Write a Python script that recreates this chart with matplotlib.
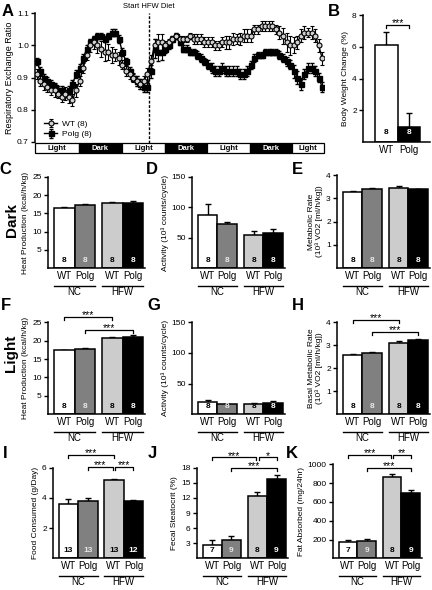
import numpy as np
import matplotlib
matplotlib.use("Agg")
import matplotlib.pyplot as plt
import matplotlib.transforms as mtransforms
from matplotlib.patches import Rectangle

plt.rcParams['font.family'] = ['Liberation Sans', 'DejaVu Sans']

# ---- panel A: respiratory exchange ratio, hourly
hours = np.arange(81)
rer_wt = [0.91, 0.89, 0.88, 0.87, 0.86, 0.86, 0.85, 0.84, 0.85, 0.84,
          0.83, 0.86, 0.89, 0.93, 0.97, 1.00, 1.01, 1.00, 0.99, 0.98,
          0.98, 0.97, 0.97, 0.96, 0.94, 0.92, 0.91, 0.90, 0.89, 0.88,
          0.89, 0.91, 0.95, 1.00, 1.01, 1.01, 1.00, 1.01, 1.02, 1.03,
          1.02, 1.02, 1.02, 1.03, 1.02, 1.02, 1.02, 1.01, 1.01, 1.01,
          1.00, 1.00, 1.01, 1.01, 1.01, 1.02, 1.02, 1.02, 1.03, 1.03,
          1.03, 1.05, 1.05, 1.06, 1.06, 1.06, 1.06, 1.05, 1.04, 1.03,
          1.01, 1.00, 1.00, 1.01, 1.03, 1.04, 1.04, 1.04, 1.03, 1.00,
          0.96]
rer_wt_sem = [0.015, 0.015, 0.02, 0.015, 0.015, 0.02, 0.015, 0.015, 0.02, 0.02,
              0.02, 0.02, 0.015, 0.015, 0.015, 0.02, 0.02, 0.025, 0.025, 0.03,
              0.025, 0.025, 0.02, 0.02, 0.015, 0.015, 0.015, 0.015, 0.015, 0.015,
              0.015, 0.02, 0.02, 0.02, 0.025, 0.025, 0.015, 0.01, 0.01, 0.01,
              0.01, 0.01, 0.01, 0.01, 0.015, 0.015, 0.015, 0.015, 0.015, 0.015,
              0.015, 0.015, 0.015, 0.02, 0.02, 0.02, 0.015, 0.02, 0.02, 0.02,
              0.02, 0.015, 0.015, 0.015, 0.015, 0.015, 0.015, 0.015, 0.02, 0.025,
              0.03, 0.03, 0.025, 0.02, 0.02, 0.02, 0.015, 0.02, 0.02, 0.02,
              0.02]
rer_polg = [0.95, 0.92, 0.90, 0.89, 0.88, 0.87, 0.86, 0.86, 0.85, 0.86,
            0.88, 0.91, 0.93, 0.96, 0.99, 1.01, 1.02, 1.03, 1.03, 1.02,
            1.03, 1.04, 1.04, 1.02, 0.98, 0.95, 0.92, 0.90, 0.89, 0.88,
            0.87, 0.87, 0.92, 0.99, 0.98, 0.98, 0.99, 1.00, 1.02, 1.03,
            1.01, 0.99, 0.99, 0.98, 0.98, 0.97, 0.96, 0.95, 0.94, 0.93,
            0.92, 0.92, 0.93, 0.92, 0.92, 0.92, 0.92, 0.91, 0.91, 0.92,
            0.94, 0.96, 0.97, 0.97, 0.98, 0.98, 0.98, 0.98, 0.97, 0.96,
            0.95, 0.94, 0.92, 0.90, 0.88, 0.91, 0.93, 0.93, 0.92, 0.90,
            0.87]
rer_polg_sem = [0.012, 0.012, 0.012, 0.012, 0.012, 0.012, 0.012, 0.012, 0.012, 0.012,
                0.012, 0.012, 0.012, 0.012, 0.012, 0.01, 0.01, 0.01, 0.01, 0.01,
                0.01, 0.01, 0.01, 0.012, 0.012, 0.012, 0.012, 0.012, 0.015, 0.015,
                0.015, 0.015, 0.02, 0.03, 0.03, 0.025, 0.015, 0.01, 0.01, 0.01,
                0.01, 0.01, 0.01, 0.01, 0.01, 0.012, 0.012, 0.012, 0.015, 0.015,
                0.015, 0.015, 0.015, 0.015, 0.015, 0.015, 0.015, 0.015, 0.015, 0.015,
                0.012, 0.012, 0.01, 0.01, 0.01, 0.01, 0.01, 0.01, 0.012, 0.012,
                0.015, 0.015, 0.02, 0.02, 0.02, 0.015, 0.015, 0.015, 0.015, 0.015,
                0.015]
cycle_edges = [-0.5, 11.7, 23.9, 35.9, 47.8, 59.8, 71.6, 80.5]
cycle_names = ['Light', 'Dark', 'Light', 'Dark', 'Light', 'Dark', 'Light']
diet_start = 31.5

# ---- panel B: body weight change
bw_groups = ['WT', 'Polg']
bw_mean = [6.1, 0.95]
bw_sem = [0.85, 0.85]
bw_n = [8, 8]

# ---- panels C-K (order: WT NC, Polg NC, WT HFW, Polg HFW)
groups = ['WT', 'Polg', 'WT', 'Polg']
diets = ['NC', 'HFW']
heat_dark = [16.4, 17.2, 17.8, 17.9]
heat_dark_sem = [0.3, 0.35, 0.35, 0.4]
act_dark = [88, 72, 54, 58]
act_dark_sem = [17, 4, 7, 6]
met_dark = [3.26, 3.38, 3.46, 3.38]
met_dark_sem = [0.05, 0.05, 0.08, 0.04]
heat_light = [17.4, 17.8, 20.8, 21.1]
heat_light_sem = [0.2, 0.15, 0.3, 0.5]
act_light = [19.5, 16, 16.5, 19]
act_light_sem = [4, 1, 2, 2]
met_light = [2.6, 2.66, 3.12, 3.21]
met_light_sem = [0.04, 0.05, 0.07, 0.08]
food = [3.6, 3.8, 5.2, 3.77]
food_sem = [0.3, 0.2, 0.08, 0.1]
steatocrit = [2.7, 3.6, 12.4, 15.8]
steatocrit_sem = [0.85, 0.8, 0.85, 0.75]
fat_abs = [175, 180, 860, 700]
fat_abs_sem = [20, 30, 32, 28]
n_calor = [8, 8, 8, 8]
n_food = [13, 13, 13, 12]
n_fecal = [7, 9, 8, 9]

W, H = 432, 590
fig = plt.figure(figsize=(W / 100, H / 100), dpi=100)


def px_axes(l, t, r, b):
    return fig.add_axes([l / W, 1 - b / H, (r - l) / W, (b - t) / H])


def style(ax):
    for s in ['top', 'right']:
        ax.spines[s].set_visible(False)
    for s in ['left', 'bottom']:
        ax.spines[s].set_linewidth(1.1)
    ax.tick_params(axis='y', length=3, width=1, labelsize=6, pad=1.5)


def bracket(ax, x1, x2, y, txt, drop):
    ax.plot([x1, x1, x2, x2], [y - drop, y, y, y - drop], color='k', lw=0.9,
            clip_on=False)
    ax.annotate(txt, (0.5 * (x1 + x2), y), xytext=(0, -2.5), textcoords='offset points',
                ha='center', va='bottom', fontsize=7.5, annotation_clip=False)


bar_pos = [0, 1, 2.35, 3.35]
bar_cols = ['white', '#808080', '#cccccc', 'black']
n_cols = ['black', '#e8e8e8', 'black', 'white']


def bar_panel(box, vals, sems, ns, ymax, yticks, ylabel, brk=()):
    l, t, r, b = box
    hpx = b - t
    ax = px_axes(l, t, r, b)
    ax.bar(bar_pos, vals, width=1, color=bar_cols, edgecolor='black', linewidth=1.1,
           zorder=2)
    ax.errorbar(bar_pos, vals, yerr=[np.zeros(4), sems], fmt='none', ecolor='black',
                elinewidth=1, capsize=2.2, capthick=1, zorder=1)
    ax.set_xlim(-0.8, 3.95)
    ax.set_ylim(0, ymax)
    ax.set_yticks(yticks)
    style(ax)
    ax.set_xticks(bar_pos, groups, fontsize=7)
    ax.tick_params(axis='x', length=0, pad=2)
    ax.set_ylabel(ylabel, fontsize=6, labelpad=2, linespacing=1.1)
    for p, n, c in zip(bar_pos, ns, n_cols):
        ax.text(p, 8 / hpx * ymax, str(n), ha='center', va='center', fontsize=6,
                fontweight='bold', color=c)
    tr = mtransforms.blended_transform_factory(ax.transData, ax.transAxes)
    for k, d in enumerate(diets):
        x1, x2 = bar_pos[2 * k] - 0.5, bar_pos[2 * k + 1] + 0.5
        ax.plot([x1, x2], [-18 / hpx] * 2, color='k', lw=1, transform=tr, clip_on=False)
        ax.text(0.5 * (x1 + x2), -24 / hpx, d, ha='center', va='center', fontsize=7,
                transform=tr)
    for x1, x2, y, txt in brk:
        bracket(ax, x1, x2, y, txt, 3 / hpx * ymax)
    return ax


# ---- A
axA = px_axes(35, 13.3, 324, 141.7)
axA.errorbar(hours, rer_wt, yerr=rer_wt_sem, fmt='-o', color='black', lw=1, ms=3.6,
             mfc='#d0d0d0', mec='black', mew=0.8, elinewidth=0.8, capsize=1.6,
             label='WT (8)', zorder=3)
axA.errorbar(hours, rer_polg, yerr=rer_polg_sem, fmt='-s', color='black', lw=1, ms=3.6,
             mfc='black', mec='black', elinewidth=0.8, capsize=1.6,
             label='Polg (8)', zorder=2)
axA.set_xlim(-0.5, 80.5)
axA.set_ylim(0.7, 1.1)
axA.set_yticks([0.7, 0.8, 0.9, 1.0, 1.1], ['0.7', '0.8', '0.9', '1.0', '1.1'])
style(axA)
axA.spines['bottom'].set_visible(False)
axA.set_xticks([])
axA.set_ylabel('Respiratory Exchange Ratio', fontsize=6.5, labelpad=2)
trA = mtransforms.blended_transform_factory(axA.transData, axA.transAxes)
hA = 128.4
for k, name in enumerate(cycle_names):
    x0, x1 = cycle_edges[k], cycle_edges[k + 1]
    dark = name == 'Dark'
    axA.add_patch(Rectangle((x0, -11.5 / hA), x1 - x0, 10 / hA, transform=trA,
                            facecolor='black' if dark else 'white', edgecolor='black',
                            lw=0.9, clip_on=False))
    axA.text(0.5 * (x0 + x1), -6.5 / hA, name, transform=trA, ha='center', va='center',
             fontsize=5.5, fontweight='bold', color='white' if dark else 'black')
axA.plot([diet_start, diet_start], [-1.5 / hA, 1.0], transform=trA, color='black',
         lw=1, ls=(0, (2, 1.2)), clip_on=False)
axA.text(diet_start, 1.055, 'Start HFW Diet', transform=trA, ha='center', va='center',
         fontsize=5.5)
axA.legend(loc='lower left', bbox_to_anchor=(0.02, 0.0), frameon=False, fontsize=6,
           handlelength=1.6, handletextpad=0.5, labelspacing=0.3, borderaxespad=0)

# ---- B
axB = px_axes(363, 15, 430, 142)
hB = 127
axB.bar([0, 1], bw_mean, width=1, color=['white', 'black'], edgecolor='black',
        linewidth=1.1, zorder=2)
axB.errorbar([0, 1], bw_mean, yerr=[[0, 0], bw_sem], fmt='none', ecolor='black',
             elinewidth=1, capsize=2.2, zorder=1)
axB.set_xlim(-1.05, 1.95)
axB.set_ylim(0, 8)
axB.set_yticks([2, 4, 6, 8])
style(axB)
axB.set_xticks([0, 1], bw_groups, fontsize=7)
axB.tick_params(axis='x', length=0, pad=2)
axB.set_ylabel('Body Weight Change (%)', fontsize=6, labelpad=2)
for p, n, c in zip([0, 1], bw_n, ['black', 'white']):
    axB.text(p, 9 / hB * 8, str(n), ha='center', va='center', fontsize=6,
             fontweight='bold', color=c)
bracket(axB, 0, 1, 7.37, '***', 3 / hB * 8)

# ---- C-K
bar_panel((48, 176.7, 145, 268.3), heat_dark, heat_dark_sem, n_calor, 25,
          [5, 10, 15, 20, 25], 'Heat Production (kcal/h/kg)')
bar_panel((192, 176.7, 285, 268.3), act_dark, act_dark_sem, n_calor, 150,
          [50, 100, 150], 'Activity (10³ counts/cycle)')
bar_panel((337, 175, 430, 268.3), met_dark, met_dark_sem, n_calor, 4,
          [1, 2, 3, 4], 'Metabolic Rate\n(10³ VO2 [ml/h/kg])')
bar_panel((48, 322.3, 145, 414.3), heat_light, heat_light_sem, n_calor, 25,
          [5, 10, 15, 20, 25], 'Heat Production (kcal/h/kg)',
          [(0, 2.35, 26.5, '***'), (1, 3.35, 22.9, '***')])
bar_panel((192, 322.3, 285, 414.3), act_light, act_light_sem, n_calor, 150,
          [50, 100, 150], 'Activity (10³ counts/cycle)')
bar_panel((337, 322.3, 430, 414.3), met_light, met_light_sem, n_calor, 4,
          [1, 2, 3, 4], 'Basal Metabolic Rate\n(10³ VO2 [ml/h/kg])',
          [(0, 2.35, 4.1, '***'), (1, 3.35, 3.59, '***')])
bar_panel((53, 467.7, 145, 558.3), food, food_sem, n_food, 6,
          [2, 4, 6], 'Food Consumed (g/Day)',
          [(0, 2.35, 6.84, '***'), (1, 2.3, 6.07, '***'), (2.42, 3.35, 6.07, '***')])
bar_panel((197, 467.7, 288, 558.3), steatocrit, steatocrit_sem, n_fecal, 18,
          [3, 6, 9, 12, 15, 18], 'Fecal Steatocrit (%)',
          [(0, 2.3, 20.1, '***'), (2.42, 3.35, 20.1, '*'), (1, 3.35, 18.0, '***')])
bar_panel((333, 464.3, 422, 558.3), fat_abs, fat_abs_sem, n_fecal, 1000,
          [200, 400, 600, 800, 1000], 'Fat Absorbed (mg/24hr)',
          [(0, 2.3, 1099, '***'), (2.42, 3.35, 1099, '**'), (1, 3.35, 964, '***')])

# ---- panel letters and row labels
for letter, x, y in [('A', 8, 12), ('B', 334, 12), ('C', 5, 170), ('D', 152, 170),
                     ('E', 297, 170), ('F', 6, 306), ('G', 154, 306), ('H', 298, 306),
                     ('I', 5, 453), ('J', 152, 453), ('K', 292, 453)]:
    fig.text(x / W, 1 - y / H, letter, ha='center', va='center', fontsize=12,
             fontweight='bold')
fig.text(12 / W, 1 - 220 / H, 'Dark', rotation=90, ha='center', va='center',
         fontsize=11, fontweight='bold')
fig.text(11 / W, 1 - 353 / H, 'Light', rotation=90, ha='center', va='center',
         fontsize=11, fontweight='bold')

fig.savefig('out.png', dpi=100)
